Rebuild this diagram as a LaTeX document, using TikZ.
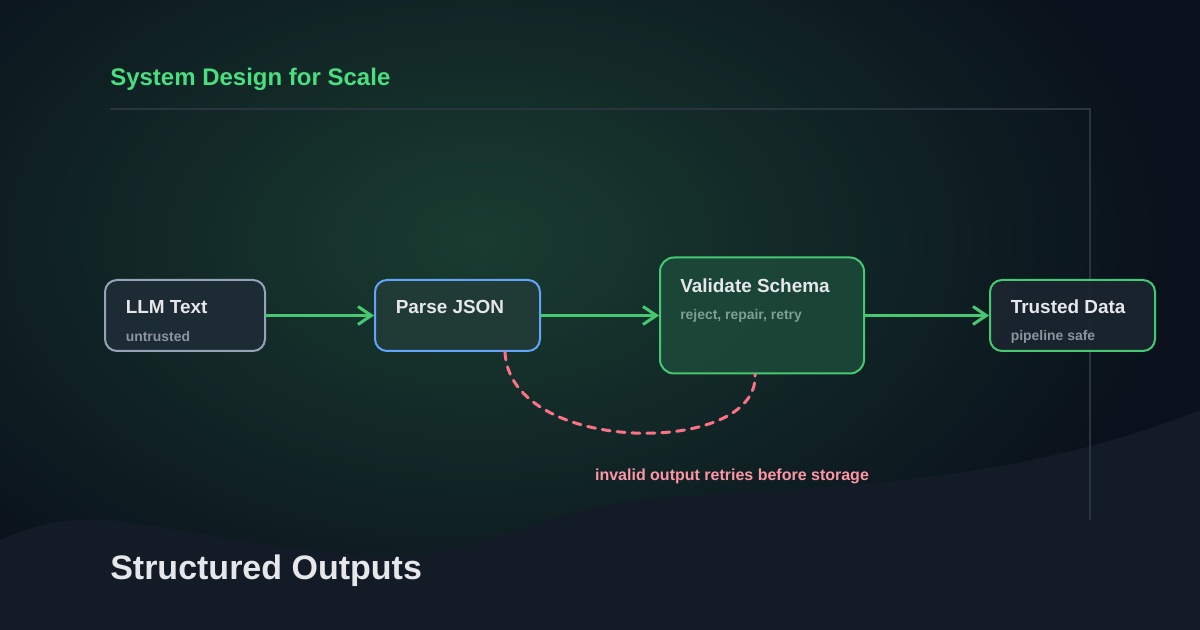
\documentclass[tikz,border=0pt]{standalone}
\usepackage{fontspec}
\setmainfont{Liberation Sans}
\usetikzlibrary{arrows.meta,calc}
\definecolor{fond}{RGB}{10,17,28}
\definecolor{lueur}{RGB}{25,60,48}
\definecolor{vague}{RGB}{19,28,38}
\definecolor{trait}{RGB}{42,52,62}
\definecolor{titreVert}{RGB}{74,222,128}
\definecolor{vert}{RGB}{70,200,115}
\definecolor{bleu}{RGB}{96,165,250}
\definecolor{ardoise}{RGB}{148,163,184}
\definecolor{rouge}{RGB}{251,113,133}
\definecolor{rose}{RGB}{253,150,165}
\definecolor{texte}{RGB}{229,231,235}
\definecolor{gris}{RGB}{140,148,158}
\definecolor{fondLLM}{RGB}{31,44,54}
\definecolor{fondParse}{RGB}{34,60,56}
\definecolor{fondValid}{RGB}{28,72,56}
\definecolor{fondTrust}{RGB}{27,37,47}

\begin{document}
\begin{tikzpicture}[x=0.75pt, y=-0.75pt,
  box/.style={draw, rounded corners=9pt, line width=1.5pt, inner sep=0pt,
              fill opacity=0.9, minimum height=53.25pt},
  ttl/.style={anchor=base west, inner sep=0pt, text=texte,
              font=\bfseries\fontsize{14.2}{16}\selectfont},
  sub/.style={anchor=base west, inner sep=0pt, text=gris,
              font=\bfseries\fontsize{10.45}{12}\selectfont},
  flow/.style={draw=vert, line width=2.25pt, line cap=round, line join=round,
               -{Straight Barb[length=10pt,width=13.5pt]}},
  retry/.style={draw=rouge, line width=2.25pt, line cap=round,
                dash pattern=on 6pt off 5.2pt}]

\useasboundingbox (0,0) rectangle (1200,630);

% Fond
\fill[fond] (0,0) rectangle (1200,630);
\shade[inner color=lueur, outer color=fond] (480,240) ellipse [x radius=520pt, y radius=330pt];
\fill[vague] (0,540) .. controls (40,522) and (80,515) .. (125,522)
  .. controls (250,540) and (350,565) .. (430,553)
  .. controls (520,540) and (560,500) .. (700,495)
  .. controls (900,485) and (1050,470) .. (1200,410)
  -- (1200,630) -- (0,630) -- cycle;

% Cadre
\draw[trait, line width=1.1pt] (110,109) -- (1090,109) -- (1090,520);

% Titres
\node[anchor=base west, inner sep=0pt, text=titreVert,
      font=\bfseries\fontsize{18}{21}\selectfont] (surtitre) at (110,86) {System Design for Scale};
\node[anchor=base west, inner sep=0pt, text=texte,
      font=\bfseries\fontsize{25.5}{30}\selectfont] (titre) at (110,580) {Structured Outputs};

% Boites
\node[box, draw=ardoise, fill=fondLLM, minimum width=120pt] (llm) at (185,315.5) {};
\node[box, draw=bleu, fill=fondParse, minimum width=123.75pt] (parse) at (457.5,315.5) {};
\node[box, draw=vert, fill=fondValid, minimum width=153pt, minimum height=87pt,
      rounded corners=10.5pt] (valid) at (762,315.5) {};
\node[box, draw=vert, fill=fondTrust, minimum width=123.75pt] (trust) at (1072.5,315.5) {};

\node[ttl] (llmT) at (125.5,314) {LLM Text};
\node[sub] (llmS) at (125.5,341.5) {untrusted};
\node[ttl] (parseT) at (395.5,314) {Parse JSON};
\node[ttl] (validT) at (680,292.3) {Validate Schema};
\node[sub, text=gris!80!vert] (validS) at (680,319.3) {reject, repair, retry};
\node[ttl] (trustT) at (1010.5,314) {Trusted Data};
\node[sub] (trustS) at (1010.5,341) {pipeline safe};

% Fleches
\draw[flow] (llm.east) -- (parse.west);
\draw[flow] (parse.east) -- (valid.west);
\draw[flow] (valid.east) -- (trust.west);

% Reprise
\draw[retry] ([xshift=35.6pt]parse.south) .. controls +(5,104) and +(5,82) .. ([xshift=-5.25pt]valid.south);
\node[anchor=base, inner sep=0pt, text=rose,
      font=\bfseries\fontsize{12}{14}\selectfont] (retryL) at (732,481) {invalid output retries before storage};

\end{tikzpicture}
\end{document}
